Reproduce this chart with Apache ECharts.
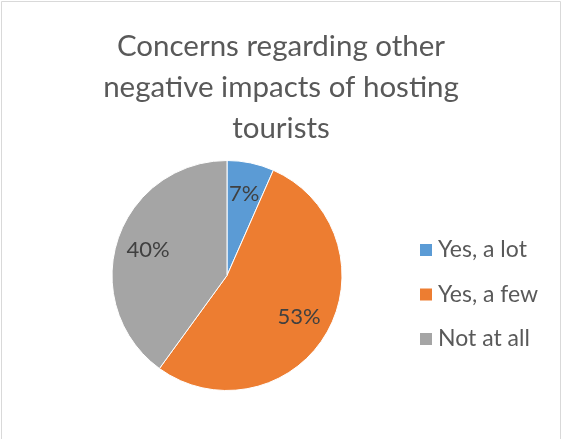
<!DOCTYPE html>
<html><head><meta charset="utf-8">
<script src="https://cdn.jsdelivr.net/npm/echarts@6/dist/echarts.min.js"></script>
<style>html,body{margin:0;padding:0;background:#fff}#c{width:562px;height:439px}</style>
</head><body><div id="c"></div>
<script>
const categories = ['Yes, a lot', 'Yes, a few', 'Not at all'];
const values = [6.6, 53.4, 40.0];
const colors = ['#5B9BD5', '#ED7D31', '#A5A5A5'];
const titleText = 'Concerns regarding other\nnegative impacts of hosting\ntourists';

const FONT = 'Lato';
const data = categories.map((n, i) => ({ name: n, value: values[i], itemStyle: { color: colors[i] } }));
const chart = echarts.init(document.getElementById('c'), null, { renderer: 'canvas' });
chart.setOption({
  animation: false,
  backgroundColor: '#fff',
  graphic: [{ type: 'rect', shape: { x: 1.5, y: 1.5, width: 559, height: 450 }, style: { fill: 'none', stroke: '#d9d9d9', lineWidth: 1 }, silent: true }],
  title: {
    text: titleText, left: 281, top: 26, textAlign: 'center', padding: 0,
    textStyle: { fontFamily: FONT, fontSize: 29.5, fontWeight: 'normal', color: '#595959', lineHeight: 41, align: 'center' }
  },
  legend: {
    orient: 'vertical', left: 418, top: 238.5, padding: 0,
    itemWidth: 14, itemHeight: 14, itemGap: 21.5,
    icon: 'rect',
    data: categories,
    textStyle: { fontFamily: FONT, fontSize: 23, color: '#595959' }
  },
  series: [{
    type: 'pie', center: [227, 275.5], radius: 115, startAngle: 90, clockwise: true,
    data: data, label: { show: false }, labelLine: { show: false },
    itemStyle: { borderColor: '#fff', borderWidth: 1 },
    emphasis: { disabled: true }
  }, {
    type: 'pie', center: [227, 275.5], radius: [45, 115], startAngle: 90, clockwise: true,
    silent: true, percentPrecision: 0,
    data: categories.map((n, i) => ({ name: n, value: values[i] })),
    itemStyle: { color: 'rgba(0,0,0,0)' },
    label: { show: true, position: 'inside', formatter: '{d}%', fontFamily: FONT, fontSize: 22, color: '#404040' },
    labelLine: { show: false },
    emphasis: { disabled: true }
  }]
});
</script></body></html>
